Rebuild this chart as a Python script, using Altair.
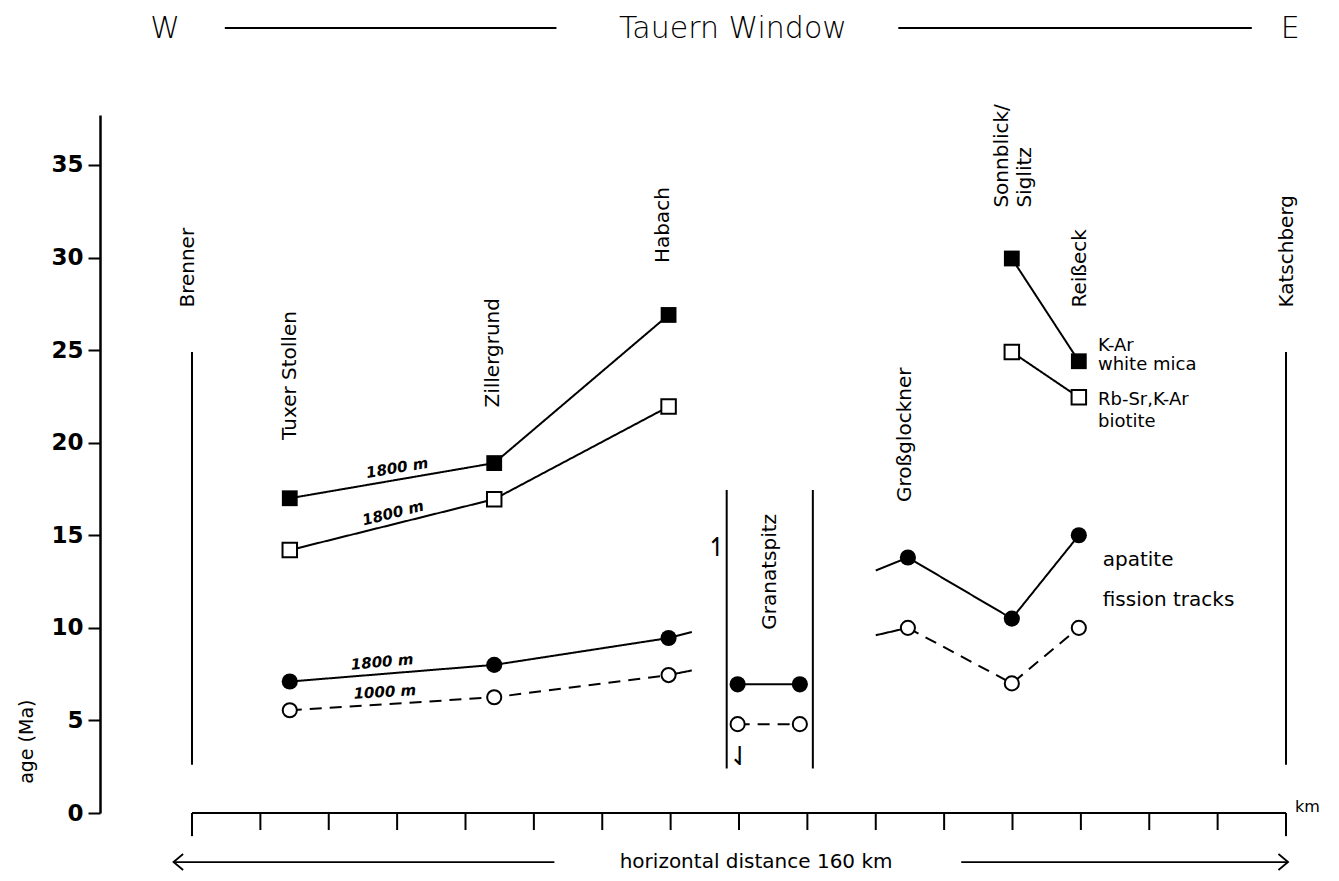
import altair as alt
import pandas as pd

# ---------------- values ----------------
age_ticks = [0, 5, 10, 15, 20, 25, 30, 35]
km_ticks = [0, 10, 20, 30, 40, 50, 60, 70, 80, 90, 100, 110, 120, 130, 140, 150, 160]
km_end_ticks = [0, 160]

# K-Ar white mica (filled squares)
mica_km = [14.3, 44.2, 69.7, 119.9, 129.7]
mica_age = [17.0, 18.9, 26.9, 29.95, 24.4]
# Rb-Sr, K-Ar biotite (open squares)
biot_km = [14.3, 44.2, 69.7, 119.9, 129.7]
biot_age = [14.2, 16.95, 21.95, 24.9, 22.45]
mica_groups = ["west", "west", "west", "east", "east"]

# apatite fission tracks: 1800 m (filled circles), 1000 m (open circles)
ap_km = [14.3, 44.2, 69.7, 79.8, 88.9, 104.7, 119.9, 129.7]
ap_1800_age = [7.1, 8.0, 9.45, 6.95, 6.95, 13.8, 10.5, 15.0]
ap_1000_age = [5.55, 6.25, 7.45, 4.8, 4.8, 10.0, 7.0, 10.0]
ap_groups = ["west", "west", "west", "granat", "granat", "east", "east", "east"]

# short continuation strokes beyond Habach and before Großglockner
stub_from_km = [69.7, 69.7, 104.7, 104.7]
stub_from_age = [9.45, 7.45, 13.8, 10.0]
stub_to_km = [73.1, 73.1, 100.0, 100.0]
stub_to_age = [9.78, 7.7, 13.1, 9.6]

# vertical boundary lines (Brenner, Katschberg, Granatspitz box)
bound_km = [0, 160, 78.2, 90.8]
bound_top = [24.9, 24.9, 17.45, 17.45]
bound_bottom = [2.6, 2.6, 2.4, 2.4]

# locality labels (vertical text)
site_text = ["Brenner", "Tuxer Stollen", "Zillergrund", "Habach", "Granatspitz",
             "Großglockner", "Sonnblick/", "Siglitz", "Reißeck", "Katschberg"]
site_km = [-0.6, 14.3, 44.0, 68.9, 84.5, 104.3, 118.4, 121.8, 129.9, 160.1]
site_age = [27.3, 20.15, 21.9, 29.7, 9.9, 16.8, 32.7, 32.7, 27.3, 27.3]

# legend-like labels
legend_text = ["K-Ar", "white mica", "Rb-Sr,K-Ar", "biotite", "apatite", "fission tracks"]
legend_km = [132.5, 132.5, 132.5, 132.5, 133.2, 133.2]
legend_age = [25.2, 24.2, 22.3, 21.1, 13.65, 11.5]
legend_size = [18, 18, 18, 18, 20, 20]

# elevation labels along the lines
elev_text = ["1800 m", "1800 m", "1800 m", "1000 m"]
elev_km = [30.0, 29.4, 27.8, 28.2]
elev_age = [18.64, 16.2, 8.16, 6.54]
elev_angle = [350.5, 346.0, 355.0, 356.4]

# ---------------- scales ----------------
XS = alt.Scale(domain=[-13.455, 164.24], nice=False, zero=False)
YS = alt.Scale(domain=[0, 37.7], nice=False, zero=False)
yaxis = alt.Axis(values=age_ticks, title=None, grid=False, domainColor="black",
                 domainWidth=2.5, tickColor="black", tickWidth=2, tickSize=12,
                 labelFont="DejaVu Sans", labelFontSize=23, labelFontWeight="bold",
                 labelColor="black", labelPadding=5, format="d")


def X(f="x"):
    return alt.X(f"{f}:Q", scale=XS, axis=None)


def Y(f="y"):
    return alt.Y(f"{f}:Q", scale=YS, axis=yaxis)


FONT = "DejaVu Sans"

# ---------------- tables ----------------
rows = []
for name, ages, groups, dash in [("mica", mica_age, mica_groups, "solid"),
                                 ("biot", biot_age, mica_groups, "solid")]:
    for k, a, g in zip(mica_km, ages, groups):
        rows.append(dict(x=k, y=a, seg=f"{name}-{g}", dash=dash))
for name, ages, dash in [("a1800", ap_1800_age, "solid"), ("a1000", ap_1000_age, "dashed")]:
    for k, a, g in zip(ap_km, ages, ap_groups):
        rows.append(dict(x=k, y=a, seg=f"{name}-{g}", dash=dash))
for i in range(len(stub_from_km)):
    rows.append(dict(x=stub_from_km[i], y=stub_from_age[i], seg=f"stub{i}", dash="solid"))
    rows.append(dict(x=stub_to_km[i], y=stub_to_age[i], seg=f"stub{i}", dash="solid"))
lines_df = pd.DataFrame(rows)

mica_df = pd.DataFrame({"x": mica_km, "y": mica_age})
biot_df = pd.DataFrame({"x": biot_km, "y": biot_age})
a18_df = pd.DataFrame({"x": ap_km, "y": ap_1800_age})
a10_df = pd.DataFrame({"x": ap_km, "y": ap_1000_age})
bound_df = pd.DataFrame({"x": bound_km, "y": bound_top, "y2": bound_bottom})
site_df = pd.DataFrame({"x": site_km, "y": site_age, "t": site_text})
legend_df = pd.DataFrame({"x": legend_km, "y": legend_age, "t": legend_text, "s": legend_size})
elev_df = pd.DataFrame({"x": elev_km, "y": elev_age, "t": elev_text, "a": elev_angle})

# ---------------- layers ----------------
lines = alt.Chart(lines_df).mark_line(color="black", strokeWidth=2).encode(
    x=X(), y=Y(), detail="seg:N",
    strokeDash=alt.StrokeDash("dash:N", legend=None,
                              scale=alt.Scale(domain=["solid", "dashed"], range=[[1, 0], [12, 8]])))

bounds = alt.Chart(bound_df).mark_rule(color="black", strokeWidth=2).encode(
    x=X(), y=Y(), y2=alt.Y2("y2:Q"))

mica_pts = alt.Chart(mica_df).mark_point(shape="square", filled=True, color="black",
                                         size=250, opacity=1).encode(x=X(), y=Y())
biot_pts = alt.Chart(biot_df).mark_point(shape="square", filled=True, fill="white", stroke="black",
                                         strokeWidth=2, size=210, opacity=1).encode(x=X(), y=Y())
a18_pts = alt.Chart(a18_df).mark_point(shape="circle", filled=True, color="black",
                                       size=260, opacity=1).encode(x=X(), y=Y())
a10_pts = alt.Chart(a10_df).mark_point(shape="circle", filled=True, fill="white", stroke="black",
                                       strokeWidth=2, size=200, opacity=1).encode(x=X(), y=Y())

sites = alt.Chart(site_df).mark_text(angle=270, align="left", baseline="middle", font=FONT,
                                     fontSize=20, color="black").encode(x=X(), y=Y(), text="t:N")
legend_txt = alt.Chart(legend_df).mark_text(align="left", baseline="middle", font=FONT,
                                            color="black").encode(
    x=X(), y=Y(), text="t:N", size=alt.Size("s:Q", scale=None, legend=None))
elev = alt.Chart(elev_df).mark_text(align="center", baseline="middle", font=FONT, fontSize=15,
                                    fontStyle="italic", fontWeight="bold", color="black").encode(
    x=X(), y=Y(), text="t:N", angle=alt.Angle("a:Q", scale=None))

harpoons = alt.Chart(pd.DataFrame({"x": [76.8, 80.1], "y": [14.3, 3.0], "t": ["↿", "⇃"]})).mark_text(
    align="center", baseline="middle", font=FONT, fontSize=26, color="black").encode(
    x=X(), y=Y(), text="t:N")

# distance scale bar
bar = alt.Chart(pd.DataFrame({"x": [0], "x2": [160], "y": [0]})).mark_rule(
    color="black", strokeWidth=2).encode(x=X(), x2=alt.X2("x2:Q"), y=Y())
tick_df = pd.DataFrame({"x": km_ticks,
                        "y": [0] * len(km_ticks),
                        "y2": [-1.25 if k in km_end_ticks else -0.92 for k in km_ticks]})
ticks = alt.Chart(tick_df).mark_rule(color="black", strokeWidth=2).encode(
    x=X(), y=Y(), y2=alt.Y2("y2:Q"))
km_lbl = alt.Chart(pd.DataFrame({"x": [161.3], "y": [0.3], "t": ["km"]})).mark_text(
    align="left", baseline="middle", font=FONT, fontSize=16, color="black").encode(
    x=X(), y=Y(), text="t:N")

# bottom distance arrow
foot_txt = alt.Chart(pd.DataFrame({"x": [82.5], "y": [-2.65], "t": ["horizontal distance 160 km"]})).mark_text(
    align="center", baseline="middle", font=FONT, fontSize=20, color="black").encode(
    x=X(), y=Y(), text="t:N")
foot_lines = alt.Chart(pd.DataFrame({"x": [-2.7, 112.5], "x2": [53.0, 160.3], "y": [-2.65, -2.65]})).mark_rule(
    color="black", strokeWidth=1.8).encode(x=X(), x2=alt.X2("x2:Q"), y=Y())
arrow_l = alt.Chart(pd.DataFrame({"x": [-2.0], "y": [-2.65]})).mark_point(
    shape="M0.6,-1L-0.6,0L0.6,1", filled=False, color="black", strokeWidth=1.8, size=256, opacity=1).encode(
    x=X(), y=Y())
arrow_r = alt.Chart(pd.DataFrame({"x": [159.6], "y": [-2.65]})).mark_point(
    shape="M-0.6,-1L0.6,0L-0.6,1", filled=False, color="black", strokeWidth=1.8, size=256, opacity=1).encode(
    x=X(), y=Y())

# header
head_txt = alt.Chart(pd.DataFrame({"x": [-3.95, 79.1, 160.6], "y": [42.35] * 3,
                                   "t": ["W", "Tauern Window", "E"]})).mark_text(
    align="center", baseline="middle", font="DejaVu Sans", fontSize=30,
    fontWeight=300, color="black").encode(x=X(), y=Y(), text="t:N")
head_lines = alt.Chart(pd.DataFrame({"x": [4.8, 103.3], "x2": [53.3, 155.0], "y": [42.4, 42.4]})).mark_rule(
    color="black", strokeWidth=2).encode(x=X(), x2=alt.X2("x2:Q"), y=Y())

# y-axis title
ytitle = alt.Chart(pd.DataFrame({"x": [-24.1], "y": [3.85], "t": ["age (Ma)"]})).mark_text(
    angle=270, align="center", baseline="middle", font=FONT, fontSize=19, color="black").encode(
    x=X(), y=Y(), text="t:N")

chart = alt.layer(
    head_lines, head_txt, bounds, lines, mica_pts, biot_pts, a18_pts, a10_pts,
    sites, legend_txt, elev, harpoons, bar, ticks, km_lbl, foot_lines, arrow_l, arrow_r, foot_txt, ytitle
).properties(
    width=1215, height=698,
    autosize=alt.AutoSizeParams(type="none"),
    padding={"left": 92, "top": 107, "right": 8, "bottom": 60},
    background="white",
).configure_view(stroke=None)

chart.save("out.html", embed_options={"renderer": "svg", "actions": False})
